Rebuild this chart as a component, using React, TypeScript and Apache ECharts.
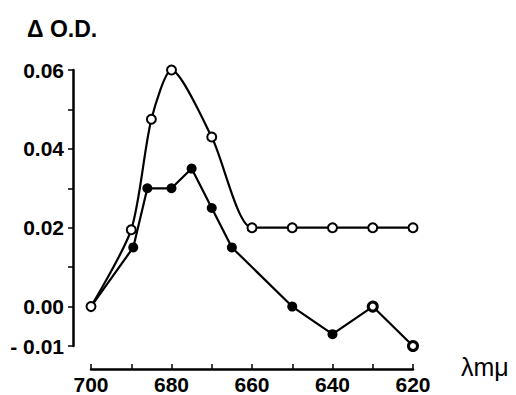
import React, { useEffect, useRef } from "react";
import * as echarts from "echarts";

const wavelengths = [700, 690, 685, 680, 670, 660, 650, 640, 630, 620];
const openValues = [0.0, 0.0195, 0.0475, 0.06, 0.043, 0.02, 0.02, 0.02, 0.02, 0.02];

const filledWavelengths = [700, 689.5, 686, 680, 675, 670, 665, 650, 640, 630, 620];
const filledValues = [0.0, 0.015, 0.03, 0.03, 0.035, 0.025, 0.015, 0.0, -0.007, 0.0, -0.01];

const xTickLabels = [700, 680, 660, 640, 620];
const yTickLabels = [-0.01, 0.0, 0.02, 0.04, 0.06];

const FONT = "'Liberation Sans', Arial, sans-serif";

export default function App() {
  const ref = useRef<HTMLDivElement>(null);

  useEffect(() => {
    if (!ref.current) return;
    const chart = echarts.init(ref.current, null, { renderer: "svg" });

    const openData = wavelengths.map((w, i) => [w, openValues[i]]);
    const filledData = filledWavelengths.map((w, i) => {
      const item: any = { value: [w, filledValues[i]] };
      if (i === 0) item.symbolSize = 0;
      if (w === 630 || w === 620) {
        item.itemStyle = { color: "#fff", borderColor: "#000", borderWidth: 3 };
        item.symbolSize = 9;
      }
      return item;
    });

    chart.setOption({
      animation: false,
      backgroundColor: "#fff",
      grid: { left: 91, right: 103, top: 70, bottom: 46, containLabel: false },
      xAxis: {
        type: "value",
        inverse: true,
        min: 620,
        max: 700,
        interval: 10,
        offset: 23,
        splitLine: { show: false },
        axisLine: { show: true, onZero: false, lineStyle: { color: "#000", width: 2.5 } },
        axisTick: { show: true, inside: true, length: 5, lineStyle: { color: "#000", width: 1.5 } },
        axisLabel: {
          color: "#000",
          fontFamily: FONT,
          fontSize: 21,
          fontWeight: "bold",
          margin: 5,
          formatter: (v: number) => (xTickLabels.includes(Math.round(v)) ? String(Math.round(v)) : ""),
        },
      },
      yAxis: {
        type: "value",
        min: -0.01,
        max: 0.06,
        interval: 0.01,
        offset: 18,
        splitLine: { show: false },
        axisLine: { show: true, onZero: false, lineStyle: { color: "#000", width: 2.5 } },
        axisTick: { show: true, inside: false, length: 5, lineStyle: { color: "#000", width: 1.5 } },
        axisLabel: {
          color: "#000",
          fontFamily: FONT,
          fontSize: 21,
          fontWeight: "bold",
          margin: 9,
          formatter: (v: number) => {
            const k = Math.round(v * 100);
            const match = yTickLabels.find((t) => Math.round(t * 100) === k);
            if (match === undefined) return "";
            return k < 0 ? "- " + Math.abs(match).toFixed(2) : match.toFixed(2);
          },
        },
      },
      graphic: [
        {
          type: "text",
          left: 27,
          top: 17,
          style: { text: "Δ O.D.", font: `bold 23px ${FONT}`, fill: "#000" },
        },
        {
          type: "text",
          left: 461,
          top: 354,
          style: { text: "λmμ", font: `25px ${FONT}`, fill: "#000" },
        },
      ],
      series: [
        {
          type: "line",
          data: filledData,
          symbol: "circle",
          symbolSize: 10,
          itemStyle: { color: "#000" },
          lineStyle: { color: "#000", width: 2.2 },
          z: 2,
        },
        {
          type: "line",
          data: openData,
          smooth: 0.25,
          symbol: "circle",
          symbolSize: 9,
          itemStyle: { color: "#fff", borderColor: "#000", borderWidth: 2 },
          lineStyle: { color: "#000", width: 2.2 },
          z: 3,
        },
      ],
    });

    return () => chart.dispose();
  }, []);

  return (
    <div
      ref={ref}
      style={{ position: "fixed", left: 0, top: 0, width: 516, height: 395 }}
    />
  );
}
